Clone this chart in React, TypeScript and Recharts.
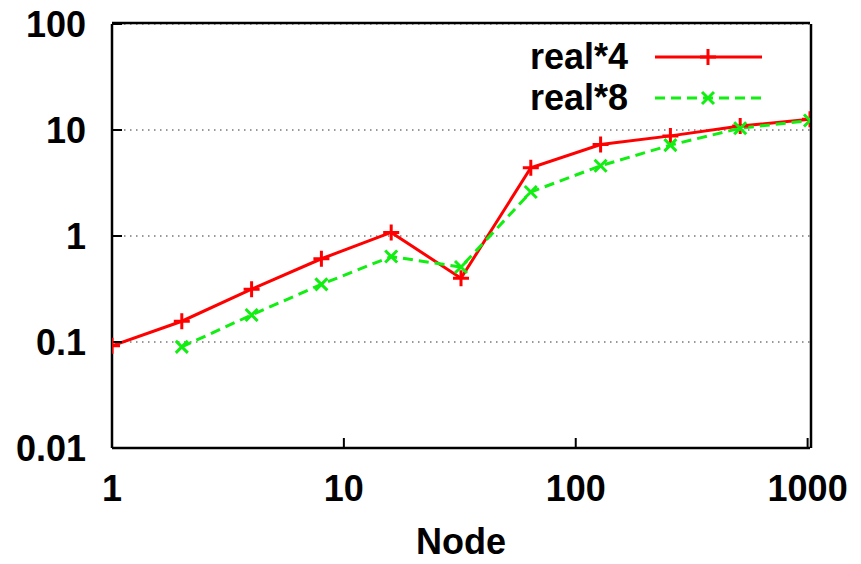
import React from 'react';
import { LineChart, Line, XAxis, YAxis, CartesianGrid, Legend } from 'recharts';

// nodes vs time, log-log
const nodes = [1, 2, 4, 8, 16, 32, 64, 128, 256, 512, 1024];
const real4 = [0.092, 0.157, 0.315, 0.61, 1.08, 0.4, 4.4, 7.3, 8.8, 10.9, 12.6];
const real8 = [null, 0.09, 0.18, 0.35, 0.64, 0.51, 2.6, 4.6, 7.2, 10.4, 12.3];

const xTicks = [1, 10, 100, 1000];
const xMinorTicks = [5, 50, 500];
const yTicks = [0.01, 0.1, 1, 10, 100];
const yMinorTicks = [0.05, 0.5, 5, 50];
const xLabel = 'Node';

const RED = '#ff0000';
const GREEN = '#11ee11';
const FONT = '"Liberation Sans", Arial, Helvetica, sans-serif';

const data = nodes.map((n, i) => ({ node: n, real4: real4[i], real8: real8[i] }));

const series = [
  { key: 'real4', name: 'real*4', color: RED, dash: undefined, marker: 'plus' },
  { key: 'real8', name: 'real*8', color: GREEN, dash: '10 6', marker: 'cross' },
];

const markerPath = (kind: string, cx: number, cy: number) =>
  kind === 'plus'
    ? `M${cx - 8},${cy}h16M${cx},${cy - 8}v16`
    : `M${cx - 6},${cy - 6}l12,12M${cx - 6},${cy + 6}l12,-12`;

const makeDot = (kind: string, color: string) => (props: any) => {
  const { cx, cy, key, value } = props;
  if (cx == null || cy == null || value == null) return <g key={key} />;
  return <path key={key} d={markerPath(kind, cx, cy)} stroke={color} strokeWidth={3} fill="none" />;
};

const tickStyle = { fontSize: 36, fontWeight: 'bold', fill: '#000', fontFamily: FONT };
const frame = { stroke: '#000', strokeWidth: 2.5 };
const tickLn = { stroke: '#000', strokeWidth: 2 };

const LegendBox = () => (
  <div style={{ fontFamily: FONT }}>
    {series.map(s => (
      <div key={s.key} style={{ display: 'flex', alignItems: 'center', height: 41 }}>
        <div style={{ width: 158, textAlign: 'right', fontSize: 36, fontWeight: 'bold', lineHeight: '41px' }}>{s.name}</div>
        <svg width={107} height={20} style={{ marginLeft: 27 }}>
          <line x1={0} x2={107} y1={10} y2={10} stroke={s.color} strokeWidth={3} strokeDasharray={s.dash} />
          <path d={markerPath(s.marker, 53, 10)} stroke={s.color} strokeWidth={3} fill="none" />
        </svg>
      </div>
    ))}
  </div>
);

export default function App() {
  const logX = { type: 'number' as const, scale: 'log' as const, domain: [1, 1024], dataKey: 'node', allowDataOverflow: true };
  const logY = { type: 'number' as const, scale: 'log' as const, domain: [0.01, 100], allowDataOverflow: true };
  return (
    <div style={{ position: 'absolute', left: 0, top: 0, background: '#fff' }}>
      <LineChart width={861} height={564} data={data} margin={{ top: 22, right: 49, bottom: 114, left: 110 }}>
        <CartesianGrid vertical={false} stroke="#333" strokeDasharray="1.5 4.5" />
        <XAxis {...logX} height={1} ticks={xTicks} tickSize={-10} tickMargin={37} tick={tickStyle}
          axisLine={frame} tickLine={tickLn}
          label={{ value: xLabel, position: 'bottom', offset: 79, style: { fontSize: 36, fontWeight: 'bold', fill: '#000', fontFamily: FONT } }} />
        <XAxis {...logX} xAxisId="minorB" height={1} ticks={xMinorTicks} tickSize={-6} tick={false} axisLine={false} tickLine={tickLn} />
        <XAxis {...logX} xAxisId="top" orientation="top" height={1} ticks={xTicks} tickSize={-10} tick={false} axisLine={frame} tickLine={tickLn} />
        <XAxis {...logX} xAxisId="minorT" orientation="top" height={1} ticks={xMinorTicks} tickSize={-6} tick={false} axisLine={false} tickLine={tickLn} />
        <YAxis {...logY} width={1} ticks={yTicks} tickSize={-10} tickMargin={36} tick={tickStyle} axisLine={frame} tickLine={tickLn} />
        <YAxis {...logY} yAxisId="minorL" width={1} ticks={yMinorTicks} tickSize={-6} tick={false} axisLine={false} tickLine={tickLn} />
        <YAxis {...logY} yAxisId="right" orientation="right" width={1} ticks={yTicks} tickSize={-10} tick={false} axisLine={frame} tickLine={tickLn} />
        <YAxis {...logY} yAxisId="minorR" orientation="right" width={1} ticks={yMinorTicks} tickSize={-6} tick={false} axisLine={false} tickLine={tickLn} />
        <Legend layout="horizontal" verticalAlign="middle" align="center" content={LegendBox}
          wrapperStyle={{ left: 470, top: 36, width: 300, height: 82 }} />
        {series.map(s => (
          <Line key={s.key} dataKey={s.key} name={s.name} stroke={s.color} strokeWidth={3} strokeDasharray={s.dash}
            dot={makeDot(s.marker, s.color)} activeDot={false} connectNulls={false} isAnimationActive={false} />
        ))}
      </LineChart>
    </div>
  );
}
